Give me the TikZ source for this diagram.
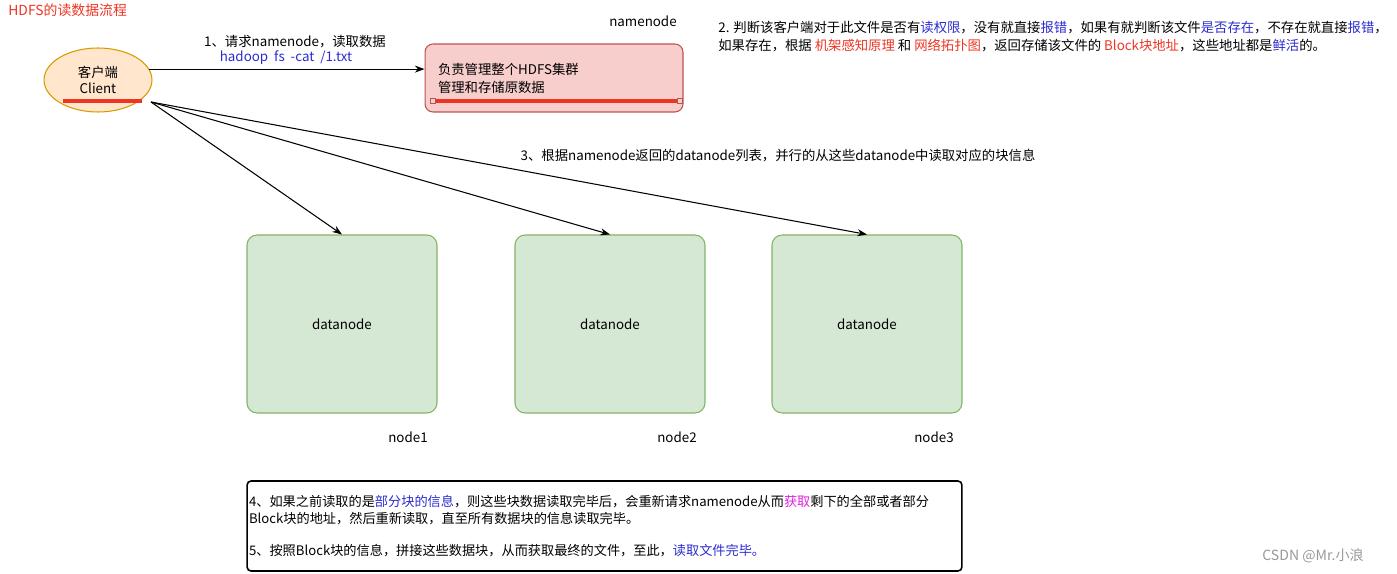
\documentclass[tikz,border=0pt]{standalone}
\usepackage{fontspec}
\setmainfont{Noto Sans CJK SC}
\usetikzlibrary{arrows.meta,shapes.geometric}
\definecolor{clientfill}{HTML}{FFE6CC}
\definecolor{clientline}{HTML}{D79B00}
\definecolor{namefill}{HTML}{F8CECC}
\definecolor{nameline}{HTML}{B85450}
\definecolor{datafill}{HTML}{D5E8D4}
\definecolor{dataline}{HTML}{82B366}
\definecolor{hlblue}{HTML}{2B2BD0}
\definecolor{hlred}{HTML}{EE3524}
\definecolor{hlpink}{HTML}{E020E0}
\definecolor{markgray}{HTML}{999999}
\newcommand{\bl}[1]{\textcolor{hlblue}{#1}}
\newcommand{\rd}[1]{\textcolor{hlred}{#1}}
\begin{document}
\begin{tikzpicture}[
  x=0.02cm, y=-0.02cm,
  font=\fontsize{7.6}{10.2}\selectfont,
  client/.style={ellipse, draw=clientline, fill=clientfill, line width=0.6pt, minimum width=2.16cm, minimum height=1.28cm, align=center, inner sep=0pt, font=\fontsize{7.6}{9.2}\selectfont},
  namenodebox/.style={draw=nameline, fill=namefill, line width=0.6pt, rounded corners=0.16cm, minimum width=5.16cm, minimum height=1.36cm, text width=4.64cm, inner xsep=0.26cm, align=left},
  datanodebox/.style={draw=dataline, fill=datafill, line width=0.6pt, rounded corners=0.2cm, minimum width=3.8cm, minimum height=3.56cm},
  notebox/.style={draw, line width=0.9pt, rounded corners=0.08cm, minimum width=14.3cm, minimum height=1.8cm, text width=14.22cm, inner xsep=0.04cm, align=left, font=\fontsize{7.5}{9.7}\selectfont},
  arrow/.style={-{Stealth[length=5.5pt,width=4pt]}, line width=0.6pt},
  redline/.style={hlred, line width=2.4pt},
  handle/.style={draw=nameline, fill=namefill, line width=0.3pt, minimum size=0.1cm, inner sep=0pt},
  lbl/.style={inner sep=0pt}
]
\useasboundingbox (0,0) rectangle (1397,574);

% title
\node[lbl, anchor=west, text=hlred, font=\fontsize{7.9}{10}\selectfont] (title) at (8,10) {HDFS的读数据流程};

% client and namenode
\node[client] (client) at (98,80) {客户端\\Client};
\draw[redline] (63,101) -- (142,101);
\node[namenodebox] (namenode) at (554,78) {负责管理整个HDFS集群\\管理和存储原数据};
\draw[redline] (433,101) -- (680,101);
\node[handle] (hl) at (433,101) {};
\node[handle] (hr) at (680,101) {};
\node[lbl] (nnlabel) at (643,21) {namenode};

% datanodes
\node[datanodebox] (dn1) at (342,324) {datanode};
\node[datanodebox] (dn2) at (610,324) {datanode};
\node[datanodebox] (dn3) at (867,324) {datanode};
\node[lbl] (n1) at (408,437) {node1};
\node[lbl] (n2) at (677,437) {node2};
\node[lbl] (n3) at (934,437) {node3};

% steps
\draw[arrow] (client.12) -- (client.12 -| namenode.west);
\node[lbl] (step1) at (295,42) {1、请求namenode，读取数据};
\node[lbl, text=hlblue] (cmd) at (286,58) {hadoop\ \ fs\ \ -cat\ \ /1.txt};

\node[lbl, anchor=north west, align=left] (step2) at (718,21) {2. 判断该客户端对于此文件是否有\bl{读权限}，没有就直接\bl{报错}，如果有就判断该文件\bl{是否存在}，不存在就直接\bl{报错}，\\如果存在，根据 \rd{机架感知原理} 和 \rd{网络拓扑图}，返回存储该文件的 \rd{Block块地址}，这些地址都是\bl{鲜活}的。};

\coordinate (fanout) at (151,102);
\draw[arrow] (fanout) -- (dn1.north);
\draw[arrow] (fanout) -- (dn2.north);
\draw[arrow] (fanout) -- (dn3.north);
\node[lbl] (step3) at (778,156) {3、根据namenode返回的datanode列表，并行的从这些datanode中读取对应的块信息};

\node[notebox] (note) at (604.5,526) {4、如果之前读取的是\bl{部分块的信息}，则这些块数据读取完毕后，会重新请求namenode从而\textcolor{hlpink}{获取}剩下的全部或者部分\\Block块的地址，然后重新读取，直至所有数据块的信息读取完毕。\\[8.5pt]5、按照Block块的信息，拼接这些数据块，从而获取最终的文件，至此，\bl{读取文件完毕。}};

% watermark
\node[lbl, text=markgray, font=\fontsize{8}{10}\selectfont] (mark) at (1313,556) {CSDN @Mr.小浪};
\end{tikzpicture}
\end{document}
